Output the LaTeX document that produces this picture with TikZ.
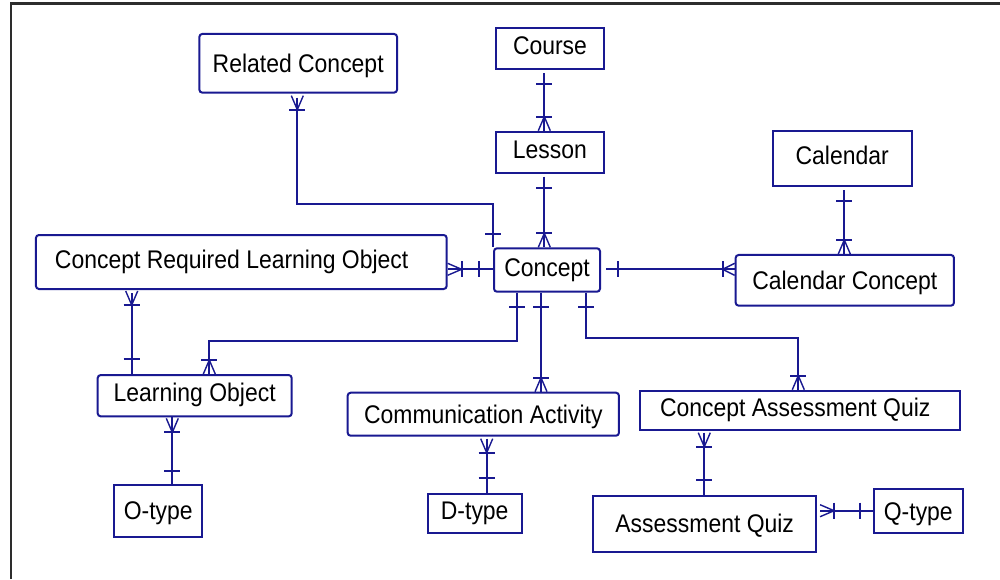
\documentclass[tikz,border=0pt]{standalone}
\usepackage{fontspec}
\setmainfont{Liberation Sans}[FakeStretch=0.9]
\usetikzlibrary{calc}
\definecolor{erline}{RGB}{25,25,145}
\definecolor{frameline}{RGB}{45,45,45}

\begin{document}
\begin{tikzpicture}[x=1pt,y=-1pt,
  ent/.style={draw=erline,line width=2pt,fill=white,inner xsep=0pt,inner ysep=0pt,
    font=\fontsize{25.5pt}{30pt}\selectfont,text=black,
    text height=18.5pt,text depth=6pt,anchor=center},
  hardbox/.style={ent},
  softbox/.style={ent,rounded corners=3pt},
  box size/.style 2 args={minimum width=#1pt,minimum height=#2pt},
  rel/.style={draw=erline,line width=2pt},
  tick/.style={draw=erline,line width=2.2pt},
  prong/.style={draw=erline,line width=1.4pt},
  % cardinality marks: crows spread at the pic origin, bars cross the line
  crow up/.pic={\draw[prong] (-6,0) -- (0,-14) -- (6,0); \draw[tick] (-8,-14) -- (8,-14);},
  crow down/.pic={\draw[prong] (-6,0) -- (0,14) -- (6,0); \draw[tick] (-8,14) -- (8,14);},
  crow left/.pic={\draw[prong] (0,-6) -- (-12,0) -- (0,6); \draw[tick] (-12,-8) -- (-12,8);},
  crow right/.pic={\draw[prong] (0,-6) -- (14,0) -- (0,6); \draw[tick] (14,-8) -- (14,8);},
  hbar/.pic={\draw[tick] (-8,0) -- (8,0);},
  vbar/.pic={\draw[tick] (0,-8) -- (0,8);},
]
\fill[white] (0,0) rectangle (1000,579);
\useasboundingbox (0,0) rectangle (1000,579);
\draw[frameline,line width=2.4pt] (10.7,579) -- (10.7,3.5) -- (1000,3.5);

% entities
\node[hardbox,box size={108}{41.6}] (course) at (550,48.5) {Course};
\node[hardbox,box size={107.5}{41}] (lesson) at (549.8,152.2) {Lesson};
\node[softbox,box size={197.7}{58.7},text depth=0pt] (related) at (298.2,63.3) {Related Concept};
\node[hardbox,box size={139}{54.4}] (calendar) at (842.2,158.5) {Calendar};
\node[softbox,box size={106}{43.4}] (concept) at (547,270) {Concept};
\node[softbox,box size={410.7}{54},inner xsep=19pt] (crlo) at (241.3,262)
  {\makebox[372.7pt][l]{Concept Required Learning Object}};
\node[softbox,box size={218.3}{50.7},text depth=0pt] (calconcept) at (844.8,280.3) {Calendar Concept};
\node[softbox,box size={194}{41.3}] (learnobj) at (194.7,395.7) {Learning Object};
\node[softbox,box size={271.3}{43},text depth=0pt] (commact) at (483.3,414.2) {Communication Activity};
\node[hardbox,box size={320}{39},inner xsep=19.7pt] (conquiz) at (800.3,410.2)
  {\makebox[280.6pt][l]{Concept Assessment Quiz}};
\node[hardbox,box size={88.3}{52.3},text depth=2pt] (otype) at (158.2,511.2) {O-type};
\node[hardbox,box size={94}{39.3}] (dtype) at (474.7,513.7) {D-type};
\node[hardbox,box size={222.7}{56},text depth=3pt] (assquiz) at (704.7,524.3) {Assessment Quiz};
\node[hardbox,box size={88.7}{44},text depth=0pt] (qtype) at (918.3,511.3) {Q-type};

% lanes used by the relationship lines
\coordinate (laneCL) at (544.3,0);
\coordinate (laneCal) at (844.3,0);
\coordinate (laneRC) at (297.3,0);
\coordinate (laneRCc) at (493.3,0);
\coordinate (rowRC) at (0,204.3);
\coordinate (rowCR) at (0,269.3);
\coordinate (laneCRLO) at (131.7,0);
\coordinate (laneCLO) at (517.3,0);
\coordinate (laneLO) at (209.3,0);
\coordinate (rowLO) at (0,340.7);
\coordinate (laneLOO) at (172.3,0);
\coordinate (laneCCA) at (541,0);
\coordinate (laneCCQ) at (586,0);
\coordinate (laneCQ) at (798.3,0);
\coordinate (rowCQ) at (0,338.3);
\coordinate (laneCAD) at (486.7,0);
\coordinate (laneCQA) at (704.3,0);
\coordinate (rowAQ) at (0,510.7);

% Course -- Lesson
\draw[rel] ($(course.south -| laneCL)+(0,3)$) -- (lesson.north -| laneCL);
\pic at ($(course.south -| laneCL)+(0,14)$) {hbar};
\pic at (lesson.north -| laneCL) {crow up};

% Lesson -- Concept
\draw[rel] ($(lesson.south -| laneCL)+(0,3)$) -- (concept.north -| laneCL);
\pic at ($(lesson.south -| laneCL)+(0,14.6)$) {hbar};
\pic at (concept.north -| laneCL) {crow up};

% Calendar -- Calendar Concept
\draw[rel] ($(calendar.south -| laneCal)+(0,3.6)$) -- (calconcept.north -| laneCal);
\pic at ($(calendar.south -| laneCal)+(0,14.3)$) {hbar};
\pic at (calconcept.north -| laneCal) {crow up};

% Related Concept -- Concept
\draw[rel] ($(related.south -| laneRC)+(0,4)$) -- (laneRC |- rowRC) -- (laneRCc |- rowRC)
  -- (concept.north -| laneRCc);
\pic at ($(related.south -| laneRC)+(0,2)$) {crow down};
\pic at ($(concept.north -| laneRCc)+(0,-13)$) {hbar};

% Concept Required Learning Object -- Concept
\draw[rel] (crlo.east |- rowCR) -- (concept.west |- rowCR);
\pic at (crlo.east |- rowCR) {crow right};
\pic at ($(concept.west |- rowCR)+(-14,0)$) {vbar};

% Concept -- Calendar Concept
\draw[rel] ($(concept.east |- rowCR)+(5,0)$) -- (calconcept.west |- rowCR);
\pic at ($(concept.east |- rowCR)+(16.7,0)$) {vbar};
\pic at (calconcept.west |- rowCR) {crow left};

% Concept Required Learning Object -- Learning Object
\draw[rel] ($(crlo.south -| laneCRLO)+(0,3)$) -- (learnobj.north -| laneCRLO);
\pic at ($(crlo.south -| laneCRLO)+(0,1)$) {crow down};
\pic at ($(learnobj.north -| laneCRLO)+(0,-15)$) {hbar};

% Concept -- Learning Object
\draw[rel] (concept.south -| laneCLO) -- (laneCLO |- rowLO) -- (laneLO |- rowLO)
  -- (learnobj.north -| laneLO);
\pic at ($(concept.south -| laneCLO)+(0,14)$) {hbar};
\pic at (learnobj.north -| laneLO) {crow up};

% Learning Object -- O-type
\draw[rel] (learnobj.south -| laneLOO) -- (otype.north -| laneLOO);
\pic at ($(learnobj.south -| laneLOO)+(0,1)$) {crow down};
\pic at ($(otype.north -| laneLOO)+(0,-12.7)$) {hbar};

% Concept -- Communication Activity
\draw[rel] (concept.south -| laneCCA) -- (commact.north -| laneCCA);
\pic at ($(concept.south -| laneCCA)+(0,14)$) {hbar};
\pic at (commact.north -| laneCCA) {crow up};

% Concept -- Concept Assessment Quiz
\draw[rel] (concept.south -| laneCCQ) -- (laneCCQ |- rowCQ) -- (laneCQ |- rowCQ)
  -- (conquiz.north -| laneCQ);
\pic at ($(concept.south -| laneCCQ)+(0,14)$) {hbar};
\pic at (conquiz.north -| laneCQ) {crow up};

% Communication Activity -- D-type
\draw[rel] ($(commact.south -| laneCAD)+(0,2)$) -- (dtype.north -| laneCAD);
\pic at ($(commact.south -| laneCAD)+(0,2)$) {crow down};
\pic at ($(dtype.north -| laneCAD)+(0,-15)$) {hbar};

% Concept Assessment Quiz -- Assessment Quiz
\draw[rel] ($(conquiz.south -| laneCQA)+(0,2)$) -- (assquiz.north -| laneCQA);
\pic at ($(conquiz.south -| laneCQA)+(0,2)$) {crow down};
\pic at ($(assquiz.north -| laneCQA)+(0,-15)$) {hbar};

% Assessment Quiz -- Q-type
\draw[rel] ($(assquiz.east |- rowAQ)+(3,0)$) -- (qtype.west |- rowAQ);
\pic at ($(assquiz.east |- rowAQ)+(3,0)$) {crow right};
\pic at ($(qtype.west |- rowAQ)+(-13.3,0)$) {vbar};
\end{tikzpicture}
\end{document}
